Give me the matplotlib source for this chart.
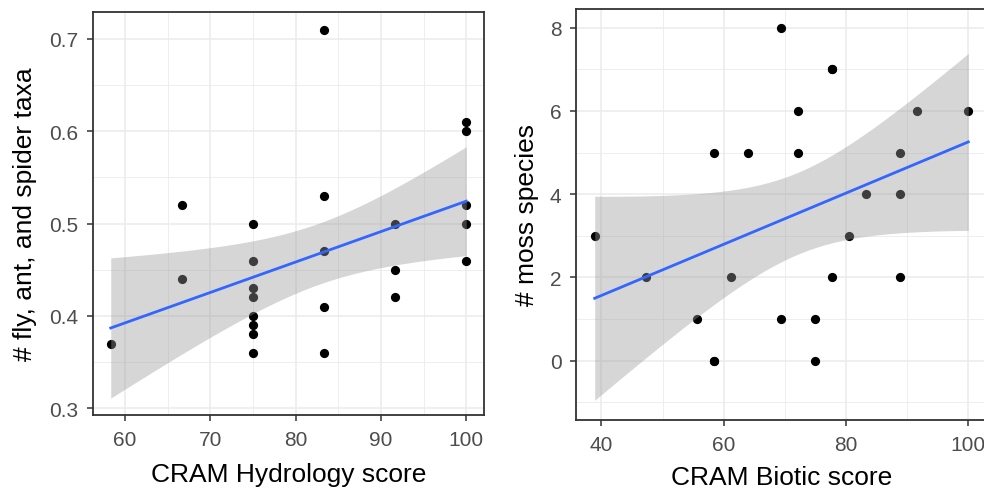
import numpy as np
import matplotlib
matplotlib.use("Agg")
import matplotlib.pyplot as plt

plt.rcParams['font.family'] = ['Liberation Sans', 'DejaVu Sans']

# Left panel data
hydro_x = [58.33, 66.67, 66.67,
           75, 75, 75, 75, 75, 75, 75, 75,
           83.33, 83.33, 83.33, 83.33, 83.33,
           91.67, 91.67, 91.67,
           100, 100, 100, 100, 100]
taxa_y = [0.37, 0.52, 0.44,
          0.50, 0.46, 0.43, 0.42, 0.40, 0.39, 0.38, 0.36,
          0.71, 0.53, 0.47, 0.41, 0.36,
          0.50, 0.45, 0.42,
          0.61, 0.60, 0.52, 0.50, 0.46]

# Right panel data (two sites overlap exactly with others)
biotic_x = [38.89, 69.44, 77.78, 77.78, 72.22, 58.33, 63.89, 72.22, 91.67, 100.0,
            88.89, 83.33, 88.89, 80.56, 47.22, 61.11, 77.78, 88.89, 55.56,
            69.44, 75.0, 58.33, 58.33, 75.0]
moss_y = [3, 8, 7, 7, 6, 5, 5, 5, 6, 6,
          5, 4, 4, 3, 2, 2, 2, 2, 1,
          1, 1, 0, 0, 0]

left_xticks = [60, 70, 80, 90, 100]
left_yticks = [0.3, 0.4, 0.5, 0.6, 0.7]
right_xticks = [40, 60, 80, 100]
right_yticks = [0, 2, 4, 6, 8]

T_CRIT = {20: 2.086, 22: 2.074}

def lm_band(x, y, n_pts=80):
    x = np.asarray(x, float); y = np.asarray(y, float)
    n = len(x)
    b, a = np.polyfit(x, y, 1)
    resid = y - (a + b * x)
    s = np.sqrt(np.sum(resid ** 2) / (n - 2))
    xm = x.mean(); sxx = np.sum((x - xm) ** 2)
    xs = np.linspace(x.min(), x.max(), n_pts)
    yh = a + b * xs
    se = s * np.sqrt(1.0 / n + (xs - xm) ** 2 / sxx)
    t = T_CRIT[n - 2]
    return xs, yh, yh - t * se, yh + t * se

GRID = '#EBEBEB'
TXT = '#4D4D4D'

def style(ax, xticks, yticks, xminor, yminor, yfmt):
    ax.set_facecolor('white')
    ax.set_xticks(xticks)
    ax.set_yticks(yticks)
    ax.set_yticklabels([yfmt(v) for v in yticks])
    ax.set_xticks(xminor, minor=True)
    ax.set_yticks(yminor, minor=True)
    ax.grid(True, which='major', color=GRID, lw=1.1, zorder=0)
    ax.grid(True, which='minor', color=GRID, lw=0.6, zorder=0)
    ax.set_axisbelow(True)
    ax.tick_params(which='major', length=4, width=1.1, color='#333333',
                   labelcolor=TXT, labelsize=15, pad=6.5)
    ax.tick_params(which='minor', length=0)
    for sp in ax.spines.values():
        sp.set_color('#333333')
        sp.set_linewidth(1.3)

def draw(ax, x, y):
    xs, yh, lo, hi = lm_band(x, y)
    ax.scatter(x, y, s=44, color='black', zorder=2, linewidths=0)
    ax.fill_between(xs, lo, hi, color='#999999', alpha=0.4, lw=0, zorder=3)
    ax.plot(xs, yh, color='#3366FF', lw=2.0, zorder=4)

fig = plt.figure(figsize=(9.84, 4.89), dpi=100)

# Left panel
ax1 = fig.add_axes([93/984, 1-416/489, (484-93)/984, (416-13)/489])
draw(ax1, hydro_x, taxa_y)
ax1.set_xlim(56.25, 102.08)
ax1.set_ylim(0.2927, 0.7292)
style(ax1, left_xticks, left_yticks, [65, 75, 85, 95], [0.35, 0.45, 0.55, 0.65],
      lambda v: f'{v:.1f}')
ax1.set_xlabel('CRAM Hydrology score', fontsize=19, color='black', labelpad=9.5)
ax1.set_ylabel('# fly, ant, and spider taxa', fontsize=19, color='black', labelpad=9)

# Right panel
ax2 = fig.add_axes([576/984, 1-421/489, (987-576)/984, (421-10)/489])
draw(ax2, biotic_x, moss_y)
ax2.set_xlim(35.83, 103.06)
ax2.set_ylim(-1.425, 8.45)
style(ax2, right_xticks, right_yticks, [50, 70, 90], [-1, 1, 3, 5, 7],
      lambda v: f'{v:d}')
ax2.set_xlabel('CRAM Biotic score', fontsize=19, color='black', labelpad=8)
ax2.set_ylabel('# moss species', fontsize=19, color='black', labelpad=8)

fig.savefig('out.png', dpi=100)
